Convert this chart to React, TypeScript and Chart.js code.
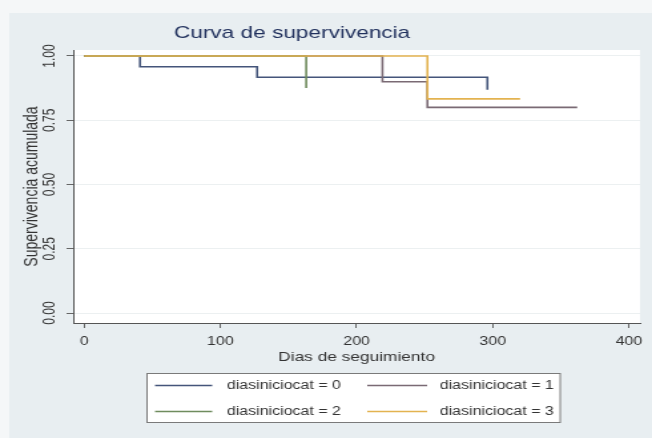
import React, { useEffect, useRef } from "react";
import { Chart, registerables } from "chart.js";

Chart.register(...registerables);

// ---- data ----
const groupLabels = [
  "diasiniciocat = 0",
  "diasiniciocat = 1",
  "diasiniciocat = 2",
  "diasiniciocat = 3",
];
const g0Days = [0, 41, 127, 296];
const g0Surv = [1, 0.958, 0.917, 0.869];
const g1Days = [0, 219, 252, 362];
const g1Surv = [1, 0.9, 0.8, 0.8];
const g2Days = [0, 163];
const g2Surv = [1, 0.875];
const g3Days = [0, 252, 320];
const g3Surv = [1, 0.833, 0.833];
const xTickValues = [0, 100, 200, 300, 400];
const yTickValues = [0, 0.25, 0.5, 0.75, 1];
const chartTitle = "Curva de supervivencia";
const xAxisTitle = "Dias de seguimiento";
const yAxisTitle = "Supervivencia acumulada";

const groupDays = [g0Days, g1Days, g2Days, g3Days];
const groupSurv = [g0Surv, g1Surv, g2Surv, g3Surv];
const groupColors = ["#44557a", "#7a6a74", "#6f8c5e", "#e3b350"];

const W = 490;
const H = 438;
const STRETCH = 652 / W;
const FONT = "'Liberation Sans', Arial, sans-serif";

const decorPlugin = {
  id: "decor",
  beforeDraw(chart: any) {
    const { ctx, chartArea } = chart;
    ctx.save();
    ctx.fillStyle = "#f5f7f8";
    ctx.fillRect(0, 0, W, H);
    ctx.fillStyle = "#e8eef1";
    ctx.fillRect(7, 13, W - 7, H - 13);
    ctx.fillStyle = "#ffffff";
    ctx.fillRect(
      chartArea.left,
      chartArea.top,
      chartArea.right - chartArea.left,
      chartArea.bottom - chartArea.top
    );
    ctx.restore();
  },
  afterDraw(chart: any) {
    const { ctx } = chart;
    ctx.save();
    // title
    ctx.font = `17px ${FONT}`;
    ctx.fillStyle = "#1f2f5c";
    ctx.textAlign = "center";
    ctx.textBaseline = "middle";
    ctx.fillText(chartTitle, 219.5, 33);

    // legend
    const bx = 110.5, by = 373.5, bw = 310.5, bh = 49;
    ctx.fillStyle = "#ffffff";
    ctx.fillRect(bx, by, bw, bh);
    ctx.strokeStyle = "#7a7a7a";
    ctx.lineWidth = 1;
    ctx.strokeRect(bx, by, bw, bh);
    const cols = [
      { l0: 116.5, l1: 159.5, t: 170.5 },
      { l0: 276, l1: 321, t: 330.5 },
    ];
    const rows = [385.5, 411.5];
    ctx.font = `12px ${FONT}`;
    ctx.textAlign = "left";
    ctx.textBaseline = "middle";
    groupLabels.forEach((lab, i) => {
      const c = cols[i % 2];
      const y = rows[Math.floor(i / 2)];
      ctx.strokeStyle = groupColors[i];
      ctx.lineWidth = 1.5;
      ctx.beginPath();
      ctx.moveTo(c.l0, y);
      ctx.lineTo(c.l1, y);
      ctx.stroke();
      ctx.fillStyle = "#333333";
      ctx.fillText(lab, c.t, y);
    });
    ctx.restore();
  },
};

export default function App() {
  const canvasRef = useRef<HTMLCanvasElement | null>(null);

  useEffect(() => {
    document.body.style.margin = "0";
    const canvas = canvasRef.current;
    if (!canvas) return;
    const datasets = groupLabels.map((lab, i) => ({
      label: lab,
      data: groupDays[i].map((d, j) => ({ x: d, y: groupSurv[i][j] })),
      borderColor: groupColors[i],
      backgroundColor: groupColors[i],
      borderWidth: 1.6,
      pointRadius: 0,
      stepped: "before" as const,
      fill: false,
      order: 3 - i,
    }));

    const chart = new Chart(canvas, {
      type: "line",
      data: { datasets },
      plugins: [decorPlugin],
      options: {
        responsive: false,
        animation: false,
        devicePixelRatio: 1,
        layout: { padding: { left: 7, right: 9, top: 50, bottom: 73 } },
        plugins: {
          legend: { display: false },
          tooltip: { enabled: false },
          title: { display: false },
        },
        scales: {
          x: {
            type: "linear",
            min: -8.07,
            max: 408.1,
            afterBuildTicks: (s: any) => {
              s.ticks = xTickValues.map((v) => ({ value: v }));
            },
            afterFit: (s: any) => {
              s.height = 42;
            },
            ticks: {
              autoSkip: false,
              maxRotation: 0,
              padding: 6,
              color: "#333333",
              font: { family: FONT, size: 12 },
            },
            grid: {
              drawOnChartArea: false,
              tickLength: 5,
              tickColor: "#666666",
            },
            border: { color: "#555555", width: 1 },
            title: {
              display: true,
              text: xAxisTitle,
              color: "#333333",
              font: { family: FONT, size: 13 },
              padding: { top: 0, bottom: 0 },
            },
          },
          y: {
            type: "linear",
            min: -0.0389,
            max: 1.0233,
            afterBuildTicks: (s: any) => {
              s.ticks = yTickValues.map((v) => ({ value: v }));
            },
            afterFit: (s: any) => {
              s.width = 48;
            },
            ticks: {
              minRotation: 90,
              maxRotation: 90,
              crossAlign: "center",
              padding: 1,
              color: "#333333",
              font: { family: FONT, size: 12 },
              callback: (v: any) => Number(v).toFixed(2),
            },
            grid: {
              color: "#ecf0f1",
              lineWidth: 1,
              tickLength: 5,
              tickColor: "#666666",
            },
            border: { color: "#555555", width: 1 },
            title: {
              display: true,
              text: yAxisTitle,
              color: "#333333",
              font: { family: FONT, size: 14 },
              padding: { top: 9, bottom: 0 },
            },
          },
        },
      },
    } as any);
    return () => chart.destroy();
  }, []);

  return (
    <div
      style={{
        position: "absolute",
        left: 0,
        top: 0,
        width: 652,
        height: 438,
        overflow: "hidden",
      }}
    >
      <canvas
        ref={canvasRef}
        width={W}
        height={H}
        style={{
          position: "absolute",
          left: 0,
          top: 0,
          width: W,
          height: H,
          transform: `scaleX(${STRETCH})`,
          transformOrigin: "0 0",
        }}
      />
    </div>
  );
}
